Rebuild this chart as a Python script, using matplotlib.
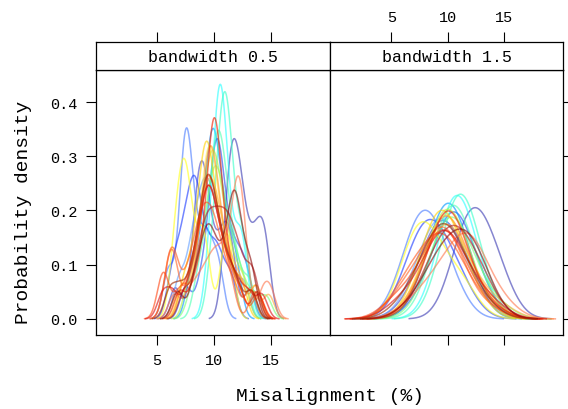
import numpy as np
import matplotlib.pyplot as plt

plt.rcParams['font.family'] = ['Liberation Mono', 'DejaVu Sans Mono']

# misalignment samples (%), one list per group
g01 = [11.1, 11.4, 11.7, 12.0, 12.3, 12.8, 13.5, 14.1, 14.6]
g02 = [6.6, 8.2, 8.5, 8.7, 8.9, 9.1, 9.3, 9.6, 10.1, 10.6, 11.0, 11.3, 11.7, 13.2]
g03 = [7.5, 8.8, 9.5, 9.8, 10.0, 10.2, 10.3, 10.5, 10.7, 11.0, 11.4, 11.9, 12.4, 13.0]
g04 = [6.0, 7.2, 7.4, 7.6, 7.8, 8.3, 9.0, 9.6, 10.4]
g05 = [6.3, 7.0, 7.5, 7.9, 8.2, 8.5, 8.8, 9.4, 10.0, 10.6, 11.5]
g25 = [6.9, 7.8, 8.3, 8.7, 9.0, 9.3, 9.6, 9.9, 10.3, 10.8, 11.5, 12.6]
g06 = [8.0, 8.8, 9.3, 9.6, 9.8, 10.0, 10.2, 10.5, 10.9, 11.4, 12.0]
g07 = [9.6, 10.1, 10.3, 10.5, 10.6, 10.8, 11.0, 11.5, 12.2, 12.6]
g08 = [9.8, 10.4, 10.5, 10.8, 11.0, 11.2, 11.3, 11.7, 12.3, 12.8]
g24 = [8.6, 9.3, 9.7, 10.0, 10.2, 10.4, 10.6, 10.8, 11.1, 11.5, 12.1, 13.1]
g09 = [8.0, 8.6, 9.0, 9.3, 9.5, 9.7, 9.9, 10.0, 10.2, 10.3,
       10.5, 10.7, 10.9, 11.1, 11.4, 11.7, 12.1, 12.6, 13.5, 14.6]
g10 = [7.8, 8.6, 9.0, 9.3, 9.6, 9.8, 10.0, 10.2, 10.5, 10.8, 11.2, 11.8, 12.6]
g11 = [6.5, 7.0, 7.3, 7.6, 8.0, 8.8, 9.3, 10.9, 11.4]
g23 = [7.2, 8.4, 8.9, 9.2, 9.4, 9.6, 9.8, 10.0, 10.3, 10.7, 11.2, 12.0, 13.6]
g12 = [7.4, 8.2, 8.7, 8.95, 9.2, 9.4, 9.6, 9.85, 10.2, 10.7, 11.4, 12.4]
g26 = [7.3, 8.5, 9.0, 9.3, 9.5, 9.7, 9.9, 10.1, 10.4, 10.8, 11.4, 12.3, 13.7]
g13 = [6.8, 7.9, 8.5, 8.9, 9.1, 9.3, 9.5, 9.7, 9.9,
       10.1, 10.3, 10.6, 10.9, 11.3, 11.8, 12.4, 13.4, 14.8]
g14 = [6.5, 7.8, 8.6, 9.2, 9.7, 10.1, 10.5, 10.9, 11.3,
       11.7, 11.9, 12.05, 12.2, 12.35, 12.5, 12.8, 14.3, 15.0]
g15 = [5.9, 6.3, 6.6, 7.8, 8.4, 8.8, 9.1, 9.3, 9.5, 9.7, 9.9, 10.2, 10.5, 10.9, 11.5, 13.6]
g22 = [5.9, 6.3, 6.7, 7.6, 8.2, 8.6, 8.9, 9.2, 9.5, 9.8, 10.1, 10.5, 11.0, 11.8, 13.2]
g16 = [5.4, 5.7, 6.9, 7.8, 8.3, 8.7, 9.0, 9.2, 9.4,
       9.6, 9.8, 10.0, 10.3, 10.6, 11.0, 11.5, 12.3, 13.9]
g17 = [7.0, 8.2, 8.9, 9.3, 9.6, 9.8, 9.9, 10.0, 10.1, 10.2, 10.4, 10.6, 10.9, 11.4, 12.2, 13.8]
g18 = [5.5, 6.4, 7.6, 8.3, 8.7, 9.0, 9.2, 9.4, 9.6,
       9.8, 10.0, 10.3, 10.6, 11.0, 11.5, 12.1, 13.0, 14.2]
g19 = [7.4, 8.4, 8.9, 9.2, 9.5, 9.8, 10.1, 10.4, 10.7, 11.0, 11.3, 11.6, 12.0, 12.4, 13.1, 13.6]
g20 = [6.8, 8.2, 8.8, 9.2, 9.5, 9.8, 10.2, 10.7, 11.2, 11.5, 11.7, 11.9, 12.1, 12.4, 13.0, 13.4]
g21 = [6.1, 7.0, 7.9, 8.5, 8.8, 9.1, 9.3, 9.5, 9.7, 9.9, 10.2, 10.5, 10.9, 11.4, 12.1, 13.3]

groups = [g01, g02, g03, g04, g05, g25, g06, g07, g08, g24, g09, g10, g11,
          g23, g12, g26, g13, g14, g15, g22, g16, g17, g18, g19, g20, g21]
line_colors = ['#3c3cb4', '#4646c8', '#2850f0', '#4a7cff', '#1e3cff', '#64a0ff',
               '#0096ff', '#28ffff', '#3cffc8', '#50ffb4', '#78ff78', '#b4f03c',
               '#ffff1e', '#ffe650', '#ffd200', '#ff9628', '#ffaa3c', '#ff7850',
               '#ff6428', '#ff5a1e', '#ff4614', '#f01e00', '#dc1414', '#b41e1e',
               '#8c0a0a', '#a02800']

bandwidths = [0.5, 1.5]
strip_labels = ['bandwidth 0.5', 'bandwidth 1.5']
x_ticks = [5, 10, 15]
y_ticks = [0.0, 0.1, 0.2, 0.3, 0.4]


def kde(values, bw, n=512):
    # gaussian kernel density, range extended by 3 bandwidths (like R density())
    v = np.asarray(values, float)
    grid = np.linspace(v.min() - 3 * bw, v.max() + 3 * bw, n)
    z = (grid[:, None] - v[None, :]) / bw
    dens = np.exp(-0.5 * z ** 2).sum(axis=1) / (len(v) * bw * np.sqrt(2 * np.pi))
    return grid, dens


W, H = 568, 410
fig = plt.figure(figsize=(W / 100, H / 100), dpi=100)


def box(l, t, r, b):
    return [l / W, 1 - b / H, (r - l) / W, (b - t) / H]


xlim = (-0.4, 20.2)
ylim = (-0.029, 0.459)
edges = [(95.7, 330), (330, 563.3)]

for i, bw in enumerate(bandwidths):
    l, r = edges[i]
    ax = fig.add_axes(box(l, 71, r, 335.7))
    for vals, c in zip(groups, line_colors):
        gx, gy = kde(vals, bw)
        ax.plot(gx, gy, color=c, alpha=0.62, lw=1.1)
    ax.set_xlim(*xlim)
    ax.set_ylim(*ylim)
    ax.set_xticks(x_ticks)
    ax.set_yticks(y_ticks)
    ax.tick_params(direction='out', length=7, width=0.8, labelsize=11, pad=6)
    if i == 0:
        ax.tick_params(left=True, right=False, labelleft=True,
                       bottom=True, labelbottom=True)
        ax.set_yticklabels(['%.1f' % t for t in y_ticks])
    else:
        ax.tick_params(left=False, right=True, labelleft=False, labelright=False,
                       bottom=True, labelbottom=False)
    for s in ax.spines.values():
        s.set_linewidth(0.9)

    # strip with the panel title; top axis ticks sit above it
    st = fig.add_axes(box(l, 43.3, r, 71))
    st.set_xlim(*xlim)
    st.set_yticks([])
    st.set_xticks(x_ticks)
    st.xaxis.set_ticks_position('top')
    st.tick_params(direction='out', length=7, width=0.8, labelsize=11, pad=6,
                   labeltop=(i == 1), labelbottom=False)
    for s in st.spines.values():
        s.set_linewidth(0.9)
    st.text(0.5, 0.5, strip_labels[i], transform=st.transAxes,
            ha='center', va='center', fontsize=12)

fig.text(24 / W, 1 - 212 / H, 'Probability density', rotation=90,
         ha='center', va='center', fontsize=14)
fig.text(330 / W, 1 - 397 / H, 'Misalignment (%)',
         ha='center', va='center', fontsize=14)

fig.savefig('out.png', dpi=100)
